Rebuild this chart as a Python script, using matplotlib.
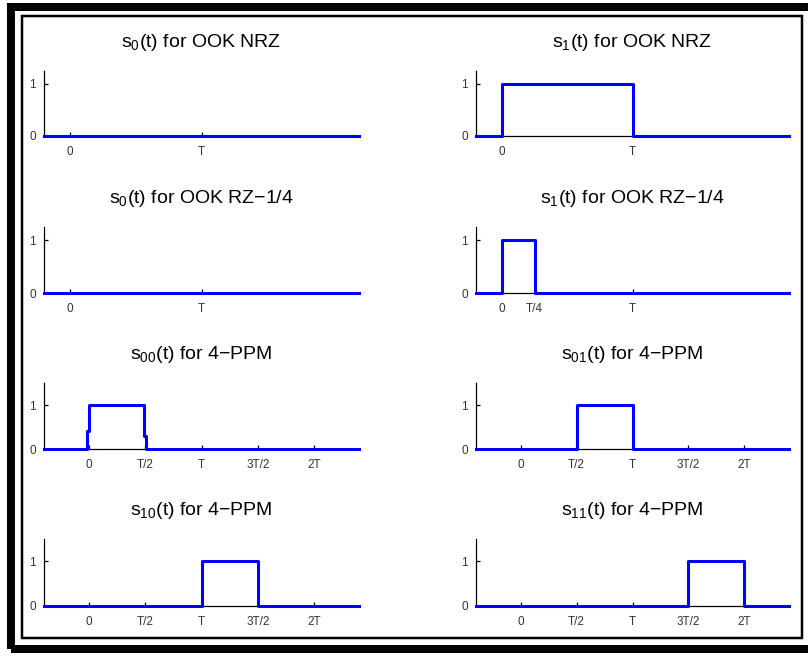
import matplotlib
matplotlib.use("Agg")
import matplotlib.pyplot as plt
from matplotlib.patches import Rectangle

plt.rcParams['font.family'] = 'Liberation Sans'
plt.rcParams['mathtext.fontset'] = 'custom'
plt.rcParams['mathtext.rm'] = 'Liberation Sans'
plt.rcParams['mathtext.it'] = 'Liberation Sans:italic'

# time axes (in units of T) and signal levels
nrz_t = [-0.2, 0, 0, 1, 1, 2.2]
rz_t = [-0.2, 0, 0, 0.25, 0.25, 2.2]
off = [0, 0, 0, 0, 0, 0]
pulse = [0, 0, 1, 1, 0, 0]
s00_t = [-0.4, -0.015, -0.015, 0, 0, 0.49, 0.49, 0.505, 0.505, 2.4]
s00 = [0, 0, 0.42, 0.42, 1, 1, 0.3, 0.3, 0, 0]
s01_t = [-0.4, 0.5, 0.5, 1, 1, 2.4]
s10_t = [-0.4, 1, 1, 1.5, 1.5, 2.4]
s11_t = [-0.4, 1.5, 1.5, 2, 2, 2.4]
s_ppm = [0, 0, 1, 1, 0, 0]

ook_ticks = [0, 1]
ook_labels = ['0', 'T']
rz_ticks = [0, 0.25, 1]
rz_labels = ['0', 'T/4', 'T']
ppm_ticks = [0, 0.5, 1, 1.5, 2]
ppm_labels = ['0', 'T/2', 'T', '3T/2', '2T']

panels = [
    ('0', 'OOK NRZ', nrz_t, off, ook_ticks, ook_labels),
    ('1', 'OOK NRZ', nrz_t, pulse, ook_ticks, ook_labels),
    ('0', 'OOK RZ\u22121/4', rz_t, off, ook_ticks, ook_labels),
    ('1', 'OOK RZ\u22121/4', rz_t, pulse, rz_ticks, rz_labels),
    ('00', '4\u2212PPM', s00_t, s00, ppm_ticks, ppm_labels),
    ('01', '4\u2212PPM', s01_t, s_ppm, ppm_ticks, ppm_labels),
    ('10', '4\u2212PPM', s10_t, s_ppm, ppm_ticks, ppm_labels),
    ('11', '4\u2212PPM', s11_t, s_ppm, ppm_ticks, ppm_labels),
]

W, H = 808, 658
fig = plt.figure(figsize=(W / 100, H / 100), dpi=100)

# axes boxes in pixels: (left, right) per column, (top, bottom) per row
cols = [(44, 359), (476, 789)]
rows = [(71, 136), (227, 293), (383, 449), (539, 606)]

for i, (sub, name, t, y, ticks, labels) in enumerate(panels):
    r, c = divmod(i, 2)
    x0, x1 = cols[c]
    top, bot = rows[r]
    ax = fig.add_axes([x0 / W, 1 - bot / H, (x1 - x0) / W, (bot - top) / H])
    ax.plot(t, y, color='#0000ff', lw=2.2, clip_on=False, zorder=3)
    if r < 2:
        ax.set_xlim(-0.2, 2.2)
        ax.set_ylim(0, 1.25)
    else:
        ax.set_xlim(-0.4, 2.4)
        ax.set_ylim(0, 1.5)
    ax.set_xticks(ticks)
    ax.set_xticklabels(labels)
    ax.set_yticks([0, 1])
    ax.spines['top'].set_visible(False)
    ax.spines['right'].set_visible(False)
    ax.spines['left'].set_linewidth(0.9)
    ax.spines['bottom'].set_linewidth(0.9)
    ax.tick_params(direction='in', length=3, width=0.9, labelsize=8.5,
                   pad=6, colors='black', labelcolor='#333333')
    ax.tick_params(axis='x', pad=7.5)
    ax.set_title(r'$\mathregular{s_{%s}}$(t) for %s' % (sub, name),
                 fontsize=14, pad=17)

# double frame around the figure
fig.add_artist(Rectangle((11 / W, 1 - 649 / H), (840 - 11) / W, (649 - 7) / H,
                         transform=fig.transFigure, fill=False, ec='black',
                         lw=8 * 0.72, clip_on=False))
fig.add_artist(Rectangle((21.5 / W, 1 - 637.5 / H), (801.5 - 21.5) / W,
                         (637.5 - 15.5) / H, transform=fig.transFigure,
                         fill=False, ec='black', lw=2.5 * 0.72, clip_on=False))

fig.savefig('out.png', dpi=100)
